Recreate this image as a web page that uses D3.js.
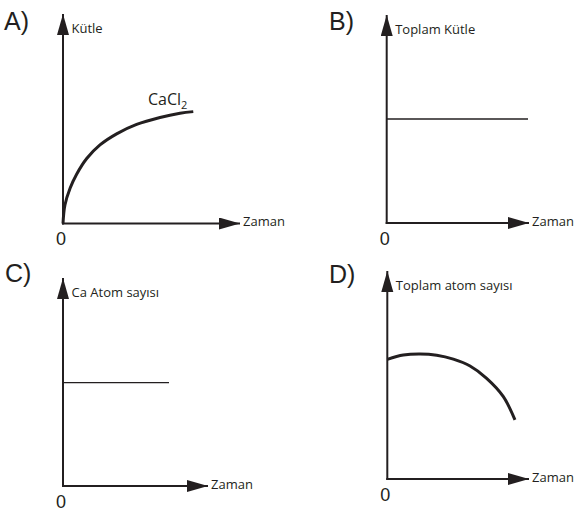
<!DOCTYPE html>
<html><head><meta charset="utf-8">
<script src="https://cdn.jsdelivr.net/npm/d3@7"></script>
<style>html,body{margin:0;padding:0;background:#fff;}svg{display:block;}</style>
</head><body>
<svg id="c" width="576" height="511"></svg>
<script>
// ---- data (axis units 0..10 on both axes) ----
const panelLetters = ["A)", "B)", "C)", "D)"];
const yAxisTitles = ["Kütle", "Toplam Kütle", "Ca Atom sayısı", "Toplam atom sayısı"];
const xAxisTitle = "Zaman";
const originLabel = "0";
const curveLabelA = ["CaCl", "2"];
const seriesA = [[0,0],[0.11,0.88],[0.40,1.68],[0.77,2.35],[1.34,3.10],[2.09,3.75],[3.03,4.28],[4.16,4.73],[5.48,5.06],[6.61,5.26],[7.36,5.34]];
const seriesB = [[0,5.0],[9.93,5.0]];
const seriesC = [[0,4.97],[7.31,4.97]];
const seriesD = [[0,5.75],[1.13,5.96],[2.31,6.01],[3.49,5.95],[4.66,5.76],[5.84,5.43],[7.01,4.84],[8.19,3.96],[9.01,2.84]];

// ---- layout ----
const ink = "#231f20";
const panels = [
  {x0:63,   y0:223.5, xt:240, yt:14,  data:seriesA, w:3,   curve:d3.curveCatmullRom.alpha(0.5)},
  {x0:386.7,y0:223,   xt:529, yt:15,  data:seriesB, w:1.3, curve:d3.curveLinear},
  {x0:63,   y0:486,   xt:208, yt:278, data:seriesC, w:1.3, curve:d3.curveLinear},
  {x0:387.3,y0:479,   xt:529, yt:271, data:seriesD, w:3,   curve:d3.curveCatmullRom.alpha(0.5)}
];
const letterPos = [[4,30],[329,30],[5,282],[329,283]];

const svg = d3.select("#c");
const defs = svg.append("defs");
defs.append("marker").attr("id","arr").attr("markerUnits","userSpaceOnUse")
  .attr("markerWidth",23).attr("markerHeight",13).attr("refX",21).attr("refY",6)
  .attr("orient","auto")
  .append("path").attr("d","M0,0 L21,6 L0,12 Z").attr("fill",ink);

panels.forEach((p,i)=>{
  const x = d3.scaleLinear().domain([0,10]).range([p.x0,p.xt]);
  const y = d3.scaleLinear().domain([0,10]).range([p.y0,p.yt]);
  const g = svg.append("g");
  // axes
  g.append("line").attr("x1",x(0)-1).attr("y1",y(0)).attr("x2",x(10)).attr("y2",y(0))
    .attr("stroke",ink).attr("stroke-width",2).attr("marker-end","url(#arr)");
  g.append("line").attr("x1",x(0)).attr("y1",y(0)+1).attr("x2",x(0)).attr("y2",y(10))
    .attr("stroke",ink).attr("stroke-width",2).attr("marker-end","url(#arr)");
  // series
  const line = d3.line().x(d=>x(d[0])).y(d=>y(d[1])).curve(p.curve);
  g.append("path").attr("d",line(p.data)).attr("fill","none")
    .attr("stroke",ink).attr("stroke-width",p.w);
  // texts
  g.append("text").attr("x",x(10)+3).attr("y",y(0)+2.5)
    .attr("font-family","Open Sans").attr("font-size",13).attr("fill",ink).text(xAxisTitle);
  g.append("text").attr("x",x(0)+8.5).attr("y",y(10)+19)
    .attr("font-family","Open Sans").attr("font-size",13).attr("fill",ink).text(yAxisTitles[i]);
  g.append("text").attr("x",x(0)-2).attr("y",y(0)+21.5).attr("text-anchor","middle")
    .attr("font-family","Liberation Sans").attr("font-size",18).attr("fill",ink).text(originLabel);
  g.append("text").attr("x",letterPos[i][0]).attr("y",letterPos[i][1])
    .attr("font-family","Liberation Sans").attr("font-size",25).attr("fill",ink).text(panelLetters[i]);
  if(i===0){
    const t = g.append("text").attr("x",148).attr("y",105)
      .attr("font-family","Open Sans").attr("font-size",16).attr("fill",ink);
    t.append("tspan").text(curveLabelA[0]);
    t.append("tspan").attr("font-size",11).attr("dy",4).text(curveLabelA[1]);
  }
});
</script>
</body></html>
